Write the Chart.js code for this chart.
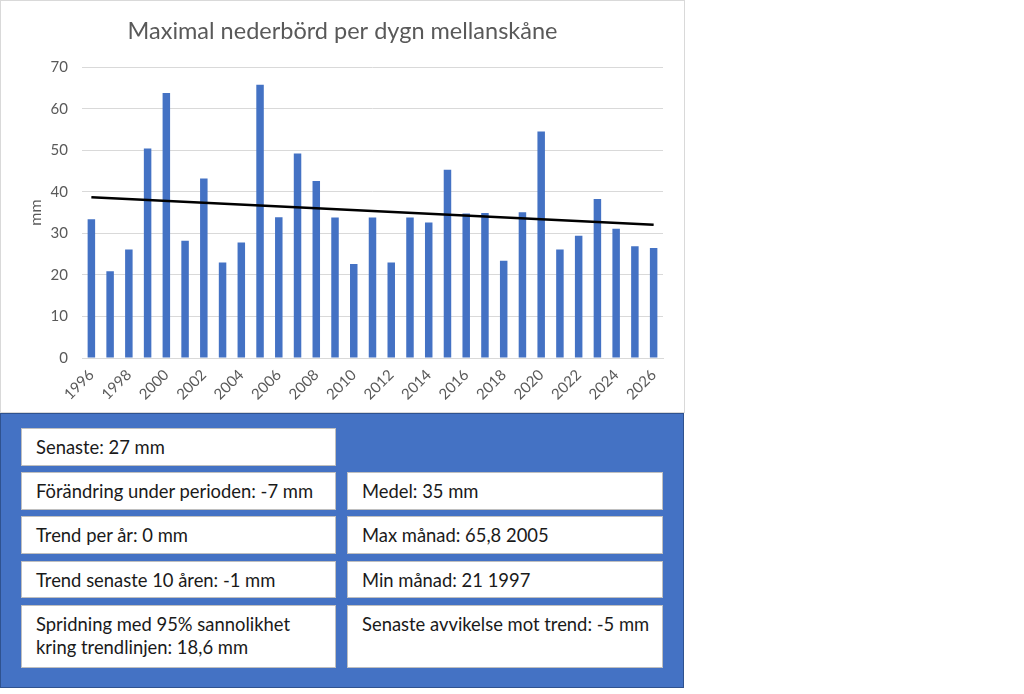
<!DOCTYPE html>
<html>
<head>
<meta charset="utf-8">
<script src="https://cdn.jsdelivr.net/npm/chart.js@4"></script>
<style>
  html, body { margin: 0; padding: 0; background: #fff; }
  body { width: 1024px; height: 694px; position: relative; overflow: hidden; font-family: Lato, "Open Sans", sans-serif; }
  #chartWrap { position: absolute; left: 0; top: 0; width: 683px; height: 411px; border: 1px solid #D9D9D9; background: #fff; }
  #panel { position: absolute; left: 0; top: 413px; width: 682px; height: 273px; background: #4472C4; border: 1px solid #2F528F; }
  .box { position: absolute; box-sizing: border-box; background: #fff; border: 1.5px solid #BFBFBF; padding: 7px 14px; line-height: 23px; font-size: 18.4px; color: #1a1a1a; white-space: pre; overflow: visible; }
</style>
</head>
<body>
<div id="chartWrap"><canvas id="c" width="683" height="411"></canvas></div>
<div id="panel"></div>
<div id="boxes"></div>
<script>
// ---- data ----
const years = ['1996','1997','1998','1999','2000','2001','2002','2003','2004','2005','2006','2007','2008','2009','2010','2011','2012','2013','2014','2015','2016','2017','2018','2019','2020','2021','2022','2023','2024','2025','2026'];
const maxPrecip = [33.4,20.9,26.1,50.4,63.8,28.2,43.2,23.0,27.8,65.8,33.9,49.2,42.6,33.8,22.6,33.8,23.0,33.8,32.6,45.3,34.8,34.9,23.4,35.1,54.5,26.1,29.4,38.3,31.1,26.9,26.5];
const trendYears = ['1996','2026'];
const trendValues = [38.7, 32.1];
const yTicks = [0,10,20,30,40,50,60,70];
const leftStats = ['Senaste: 27 mm','Förändring under perioden: -7 mm','Trend per år: 0 mm','Trend senaste 10 åren: -1 mm','Spridning med 95% sannolikhet\nkring trendlinjen: 18,6 mm'];
const rightStats = ['Medel: 35 mm','Max månad: 65,8 2005','Min månad: 21 1997','Senaste avvikelse mot trend: -5 mm'];

// ---- stat boxes ----
const boxesEl = document.getElementById('boxes');
const leftTops = [428,472,516,561,605], leftH = [38,38,38,37,63];
const rightTops = [472,516,561,605], rightH = [38,38,37,63];
leftStats.forEach((t,i)=>{
  const d=document.createElement('div'); d.className='box';
  d.style.left='21px'; d.style.width='315px'; d.style.top=leftTops[i]+'px'; d.style.height=leftH[i]+'px';
  d.textContent=t; boxesEl.appendChild(d);
});
rightStats.forEach((t,i)=>{
  const d=document.createElement('div'); d.className='box';
  d.style.left='347px'; d.style.width='316px'; d.style.top=rightTops[i]+'px'; d.style.height=rightH[i]+'px';
  d.textContent=t; boxesEl.appendChild(d);
});

// ---- chart ----
const gray = '#595959';
new Chart(document.getElementById('c'), {
  type: 'bar',
  data: {
    labels: years,
    datasets: [
      { type: 'line', data: trendYears.map((y,i)=>({x:y, y:trendValues[i]})), borderColor: '#000', borderWidth: 2.5, pointRadius: 0, fill: false, order: 0 },
      { type: 'bar', data: maxPrecip, backgroundColor: '#4472C4', barPercentage: 0.8, categoryPercentage: 0.5, order: 1 }
    ]
  },
  options: {
    responsive: false,
    animation: false,
    devicePixelRatio: 1,
    layout: { padding: 0 },
    plugins: {
      legend: { display: false },
      tooltip: { enabled: false },
      title: { display: true, text: 'Maximal nederbörd per dygn mellanskåne', color: gray, font: { family: 'Lato', size: 23.5, weight: 'normal', lineHeight: 1.2 }, padding: { top: 16, bottom: 22 } }
    },
    scales: {
      x: {
        grid: { display: false, drawTicks: false },
        border: { display: true, color: '#D9D9D9', width: 1 },
        ticks: { color: gray, font: { family: 'Lato', size: 15 }, autoSkip: false, maxRotation: 45, minRotation: 45, padding: 8,
          callback: function(v, i){ return i % 2 === 0 ? years[i] : ''; } },
        afterFit: function(s){ s.height = 54; }
      },
      y: {
        min: 0, max: 70,
        afterBuildTicks: function(s){ s.ticks = yTicks.map(v=>({value:v})); },
        grid: { color: '#D9D9D9', lineWidth: 1, drawTicks: false },
        border: { display: false },
        ticks: { color: gray, font: { family: 'Lato', size: 15 }, padding: 14 },
        title: { display: true, text: 'mm', color: gray, font: { family: 'Lato', size: 16 }, padding: { top: 25, bottom: 0 } },
        afterFit: function(s){ s.width = 81; }
      },
      yRight: {
        position: 'right', min: 0, max: 70,
        grid: { display: false, drawTicks: false },
        border: { display: false },
        ticks: { display: false },
        afterFit: function(s){ s.width = 21; }
      }
    }
  }
});
</script>
</body>
</html>
